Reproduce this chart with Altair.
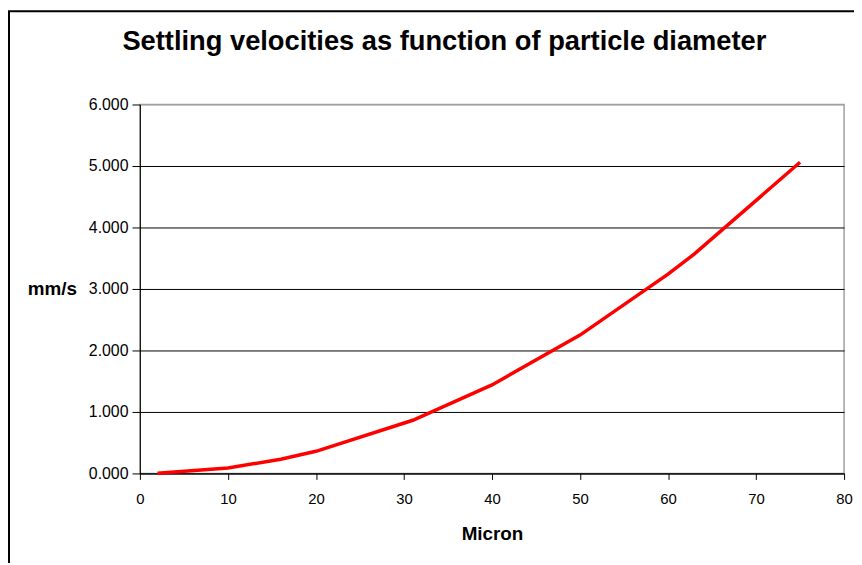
import altair as alt
import pandas as pd

# Data
micron = [2, 10, 16, 20, 31, 40, 50, 60, 63, 75]
velocity = [0.004, 0.09, 0.23, 0.36, 0.865, 1.44, 2.25, 3.24, 3.57, 5.06]

df = pd.DataFrame({"Micron": micron, "mm/s": velocity})
FONT = "Liberation Sans"

line = alt.Chart(df).mark_line(color="#ff0000", strokeWidth=3.5).encode(
    x=alt.X("Micron:Q",
            scale=alt.Scale(domain=[0, 80], nice=False, zero=False),
            axis=alt.Axis(values=[0, 10, 20, 30, 40, 50, 60, 70, 80], grid=False,
                          title="Micron", titleFontSize=19, titleFontWeight="bold",
                          titlePadding=19, labelFontSize=15, labelPadding=12,
                          tickSize=6, labelFlush=False)),
    y=alt.Y("mm/s:Q",
            scale=alt.Scale(domain=[0, 6], nice=False),
            axis=alt.Axis(values=[0, 1, 2, 3, 4, 5, 6], format=".3f",
                          gridColor=alt.condition("datum.value >= 6",
                                                  alt.value("#a0a0a0"),
                                                  alt.value("#000000")),
                          gridWidth=1, grid=True,
                          title="mm/s", titleAngle=0, titleAlign="right",
                          titleBaseline="middle", titleX=-64, titleY=186,
                          titleFontSize=19, titleFontWeight="bold",
                          labelFontSize=16, labelPadding=4, tickSize=8,
                          labelFlush=False)),
)

frame = alt.Chart(pd.DataFrame({"a": [0]})).mark_rect(
    fill=None, stroke="#000000", strokeWidth=2
).encode(
    x=alt.value(-132), x2=alt.value(735),
    y=alt.value(-94), y2=alt.value(480),
)

chart = alt.layer(frame, line).properties(
    width=710,
    height=372,
    title=alt.TitleParams(
        "Settling velocities as function of particle diameter",
        fontSize=27.5, fontWeight="bold", font=FONT, color="#000000",
        anchor="middle", dx=-48, offset=-68, baseline="alphabetic",
    ),
    autosize=alt.AutoSizeParams(type="none"),
    padding={"left": 133, "top": 95, "right": 10, "bottom": 88},
).configure(
    font=FONT,
).configure_axis(
    labelFont=FONT, titleFont=FONT, labelColor="#000000", titleColor="#000000",
    domainColor="#000000", tickColor="#000000", domainWidth=1, tickWidth=1,
).configure_axisX(
    grid=False,
).configure_view(
    stroke="#a0a0a0", strokeWidth=1.5,
)

chart.save("out.html", embed_options={"renderer": "svg", "actions": False})
